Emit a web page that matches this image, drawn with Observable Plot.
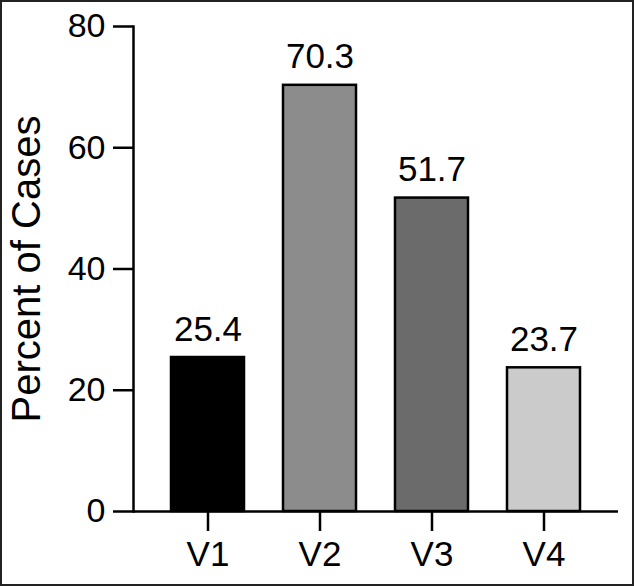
<!DOCTYPE html>
<html>
<head>
<meta charset="utf-8">
<script src="https://cdn.jsdelivr.net/npm/d3@7"></script>
<script src="https://cdn.jsdelivr.net/npm/@observablehq/plot@0.6"></script>
<style>
  html, body { margin: 0; padding: 0; background: #fff; }
  #chart svg { display: block; outline: 2px solid #222; outline-offset: -2px; }
</style>
</head>
<body>
<div id="chart"></div>
<script>
const categories = ["V1", "V2", "V3", "V4"];
const values = [25.4, 70.3, 51.7, 23.7];
const fills = ["#000000", "#8c8c8c", "#6b6b6b", "#cbcbcb"];
const yTicks = [0, 20, 40, 60, 80];
const yLabel = "Percent of Cases";

const data = categories.map((c, i) => ({cat: c, value: values[i], fill: fills[i]}));

const chart = Plot.plot({
  width: 634,
  height: 586,
  marginLeft: 133,
  marginRight: 16,
  marginTop: 26,
  marginBottom: 75,
  style: {fontFamily: "'Liberation Sans', Arial, sans-serif", fontSize: "34px", color: "#000", background: "#fff"},
  x: {domain: categories, paddingInner: 0.35, paddingOuter: 0.34},
  y: {domain: [0, 80]},
  marks: [
    Plot.barY(data, {x: "cat", y: "value", fill: "fill", stroke: "#000", strokeWidth: 2.5}),
    Plot.text(data, {x: "cat", y: "value", text: d => d.value.toFixed(1), lineAnchor: "bottom", dy: -17, fontSize: 35, fill: "#000"}),
    Plot.ruleY([0], {stroke: "#000", strokeWidth: 2.5}),
    Plot.frame({anchor: "left", stroke: "#000", strokeWidth: 2.5}),
    Plot.axisY({ticks: yTicks, tickSize: 20, tickPadding: 8, tickFormat: d => String(d), fontSize: 34, strokeWidth: 2.5, stroke: "#000", label: yLabel, labelAnchor: "center", labelArrow: "none", labelOffset: 122}),
    Plot.axisX({tickSize: 20, tickPadding: 10, fontSize: 35, strokeWidth: 2.5, stroke: "#000", label: null})
  ]
});
chart.querySelectorAll("[aria-label='y-axis label']").forEach(el => el.setAttribute("font-size", 40));
document.getElementById("chart").appendChild(chart);
</script>
</body>
</html>
